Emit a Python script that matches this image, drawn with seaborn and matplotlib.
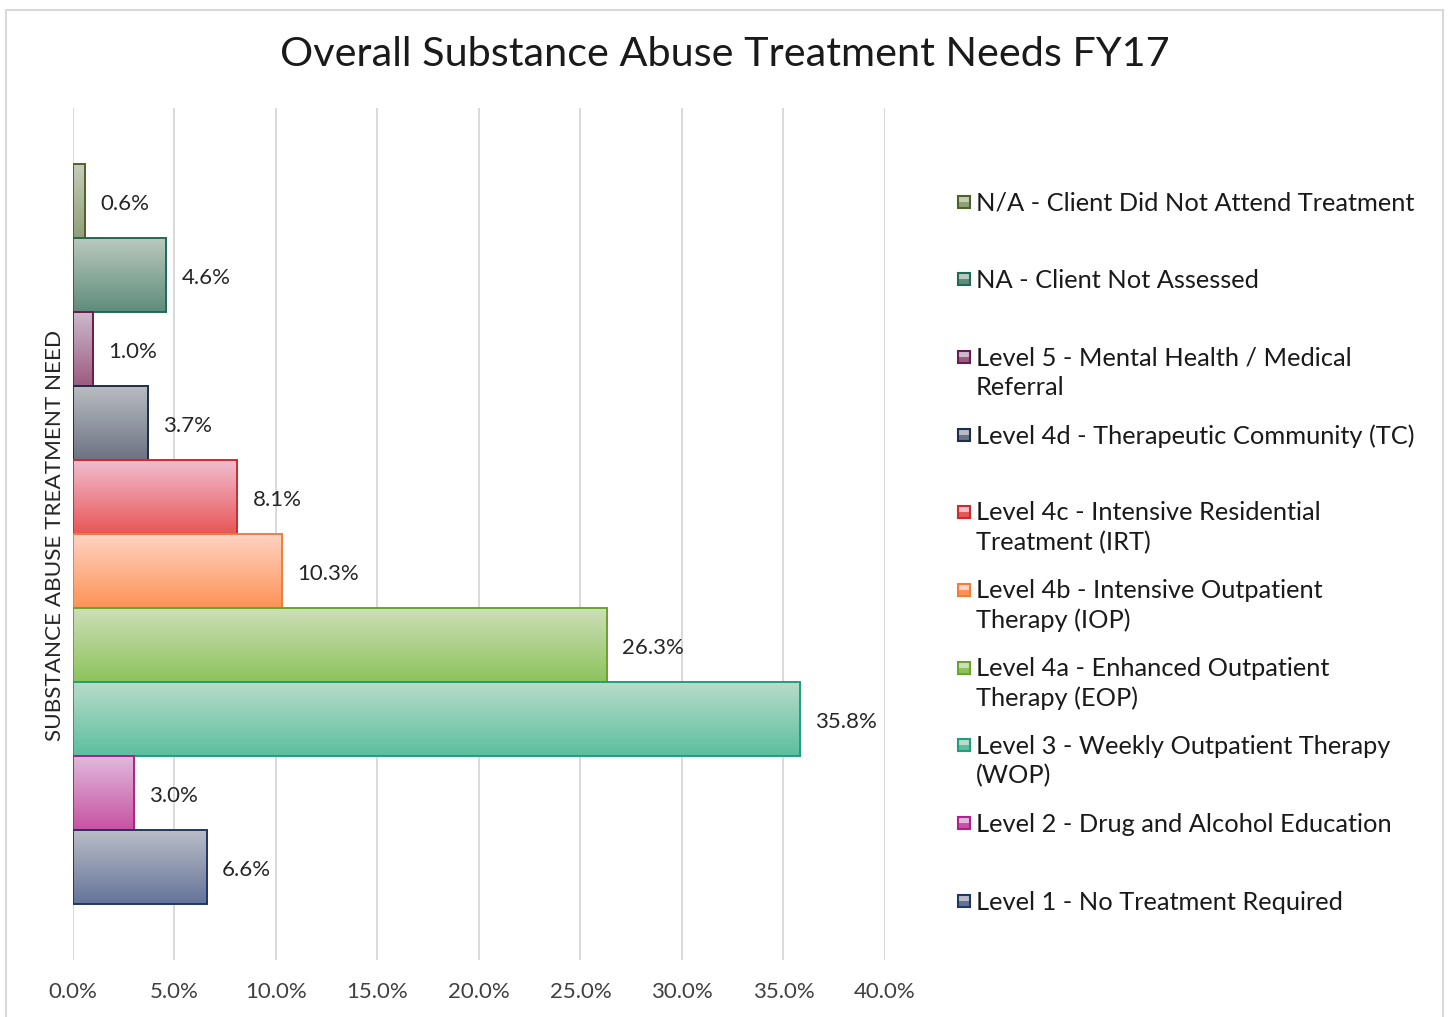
import numpy as np
import pandas as pd
import matplotlib
matplotlib.use("Agg")
import matplotlib.pyplot as plt
import matplotlib.patches as mpatches
from matplotlib.colors import to_rgba
import seaborn as sns

# ---------------- data ----------------
levels = [
    "N/A - Client Did Not Attend Treatment",
    "NA - Client Not Assessed",
    "Level 5 - Mental Health / Medical Referral",
    "Level 4d - Therapeutic Community (TC)",
    "Level 4c - Intensive Residential Treatment (IRT)",
    "Level 4b - Intensive Outpatient Therapy (IOP)",
    "Level 4a - Enhanced Outpatient Therapy (EOP)",
    "Level 3 - Weekly Outpatient Therapy (WOP)",
    "Level 2 - Drug and Alcohol Education",
    "Level 1 - No Treatment Required",
]
legend_text = [
    "N/A - Client Did Not Attend Treatment",
    "NA - Client Not Assessed",
    "Level 5 - Mental Health / Medical\nReferral",
    "Level 4d - Therapeutic Community (TC)",
    "Level 4c - Intensive Residential\nTreatment (IRT)",
    "Level 4b - Intensive Outpatient\nTherapy (IOP)",
    "Level 4a - Enhanced Outpatient\nTherapy (EOP)",
    "Level 3 - Weekly Outpatient Therapy\n(WOP)",
    "Level 2 - Drug and Alcohol Education",
    "Level 1 - No Treatment Required",
]
percent = [0.6, 4.6, 1.0, 3.7, 8.1, 10.3, 26.3, 35.8, 3.0, 6.6]
x_ticks = [0, 5, 10, 15, 20, 25, 30, 35, 40]

top_colors = ["#c5cdb9", "#b9c9bd", "#cdb9cb", "#b9bdc1", "#f0bdd0",
              "#ffd3c4", "#cddfb8", "#b8dcc9", "#e0b9dc", "#b9bdc6"]
bottom_colors = ["#8fa077", "#5f8c7b", "#9c5b80", "#6b7282", "#e85656",
                 "#fd9256", "#8dc35d", "#5bbf9f", "#c852a2", "#647399"]
edge_colors = ["#4f6228", "#1e6b57", "#6b1c4f", "#1c2e4a", "#d02b2b",
               "#f07e3a", "#6aa32d", "#1f9e7d", "#b01f8c", "#1f3864"]

df = pd.DataFrame({"level": levels, "percent": percent})

# ---------------- figure ----------------
sns.set_theme(style="white")
plt.rcParams["font.family"] = ["Lato", "DejaVu Sans"]

W, H = 1449, 1017
fig = plt.figure(figsize=(W / 100, H / 100), dpi=100)
fig.patch.set_facecolor("white")

def fx(px):
    return px / W

def fy(py):
    return 1 - py / H

ax_left, ax_right, ax_top, ax_bottom = 72.7, 885, 108, 960
ax = fig.add_axes([fx(ax_left), fy(ax_bottom), fx(ax_right - ax_left),
                   (ax_bottom - ax_top) / H])

sns.barplot(data=df, y="level", x="percent", hue="level", order=levels,
            hue_order=levels, palette=bottom_colors, width=1.0, orient="h",
            legend=False, ax=ax, saturation=1)

# gradient fill per bar
for i, patch in enumerate(ax.patches):
    x0, y0 = patch.get_x(), patch.get_y()
    w, h = patch.get_width(), patch.get_height()
    c_top = np.array(to_rgba(top_colors[i]))
    c_bot = np.array(to_rgba(bottom_colors[i]))
    t = np.linspace(0, 1, 100)[:, None]
    grad = (c_top[None, :] * (1 - t) + c_bot[None, :] * t)[:, None, :]
    im = ax.imshow(grad, extent=(x0, x0 + w, y0 + h, y0), origin="upper",
                   aspect="auto", zorder=2, interpolation="bilinear")
    im.set_clip_path(patch)
    patch.set_facecolor("none")
    patch.set_edgecolor(edge_colors[i])
    patch.set_linewidth(1.4)
    patch.set_zorder(3)

# value labels
for i, cont in enumerate(ax.containers):
    texts = ax.bar_label(cont, labels=[f"{percent[i]:.1f}%"], padding=11,
                         fontsize=16, color="#262626", zorder=4)
    for tx in texts:
        tx.xyann = (11, -2.5)

n = len(levels)
pad = 0.757
ax.set_ylim(n - 0.5 + pad, -0.5 - pad)
ax.set_xlim(0, 40)
ax.set_xticks(x_ticks)
ax.set_xticklabels([f"{v:.1f}%" for v in x_ticks], fontsize=16, color="#404040")
ax.set_yticks([])
ax.set_ylabel("")
ax.set_xlabel("")
ax.tick_params(axis="x", length=0, pad=16)
ax.grid(axis="x", color="#d9d9d9", linewidth=1.4, zorder=0)
ax.set_axisbelow(True)
for s in ax.spines.values():
    s.set_visible(False)
ax.set_facecolor("none")

# y axis title
fig.text(fx(55), fy(535), "SUBSTANCE ABUSE TREATMENT NEED", rotation=90,
         ha="center", va="center", fontsize=16.2, color="#262626")

# chart title
fig.text(fx(725), fy(55), "Overall Substance Abuse Treatment Needs FY17",
         ha="center", va="center", fontsize=29.8, color="#1a1a1a")

# legend (manual, Excel-style)
first_line_y = [202, 279, 357, 435, 512, 590, 668, 745, 823, 901]
for i, txt in enumerate(legend_text):
    yc = first_line_y[i]
    sq = 12
    fig.add_artist(mpatches.Rectangle((fx(958), fy(yc + sq / 2)), fx(sq), sq / H,
                                      transform=fig.transFigure,
                                      facecolor=bottom_colors[i],
                                      edgecolor="none", linewidth=0))
    fig.add_artist(mpatches.Rectangle((fx(958), fy(yc)), fx(sq), (sq / 2) / H,
                                      transform=fig.transFigure,
                                      facecolor=top_colors[i],
                                      edgecolor="none", linewidth=0))
    fig.add_artist(mpatches.Rectangle((fx(958), fy(yc + sq / 2)), fx(sq), sq / H,
                                      transform=fig.transFigure,
                                      facecolor="none",
                                      edgecolor=edge_colors[i], linewidth=1.5))
    for k, line in enumerate(txt.split("\n")):
        fig.text(fx(976), fy(yc + 1 + k * 29.5), line, ha="left",
                 va="center", fontsize=18.3, color="#1a1a1a")

# outer chart border
fig.add_artist(mpatches.Rectangle((fx(6), fy(1030)), fx(1437), 1020 / H,
                                  transform=fig.transFigure, facecolor="none",
                                  edgecolor="#d9d9d9", linewidth=1.5))

fig.savefig("out.png", dpi=100, facecolor="white")
